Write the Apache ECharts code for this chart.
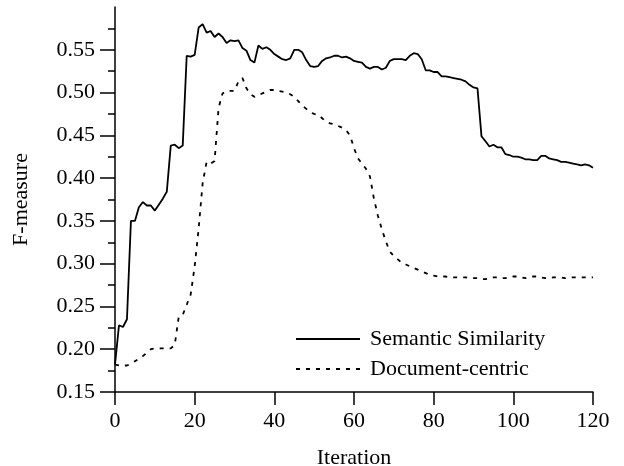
<!DOCTYPE html>
<html>
<head>
<meta charset="utf-8">
<script src="https://cdn.jsdelivr.net/npm/echarts@6/dist/echarts.min.js"></script>
<style>html,body{margin:0;padding:0;background:#fff}#c{width:624px;height:466px}</style>
</head>
<body>
<div id="c"></div>
<script>
var iterations = [];
for (var k = 0; k <= 120; k++) iterations.push(k);

var semanticSimilarity = [
  0.182,0.228,0.226,0.235,0.350,0.350,0.366,0.372,0.368,0.368,
  0.362,0.369,0.376,0.384,0.438,0.439,0.435,0.438,0.543,0.542,
  0.544,0.576,0.580,0.570,0.572,0.565,0.569,0.565,0.558,0.561,
  0.560,0.561,0.552,0.549,0.538,0.535,0.555,0.551,0.553,0.550,
  0.545,0.542,0.539,0.538,0.540,0.550,0.550,0.547,0.538,0.531,
  0.530,0.531,0.537,0.540,0.541,0.543,0.543,0.541,0.542,0.540,
  0.537,0.536,0.535,0.530,0.528,0.530,0.530,0.527,0.529,0.537,
  0.539,0.539,0.539,0.538,0.543,0.546,0.545,0.539,0.526,0.526,
  0.524,0.524,0.519,0.519,0.518,0.517,0.516,0.515,0.513,0.509,
  0.506,0.505,0.449,0.443,0.437,0.439,0.436,0.436,0.428,0.427,
  0.425,0.425,0.424,0.422,0.422,0.421,0.421,0.426,0.426,0.423,
  0.422,0.421,0.419,0.419,0.418,0.417,0.416,0.415,0.416,0.415,
  0.412
];

var documentCentric = [
  0.182,0.181,0.181,0.181,0.183,0.186,0.189,0.192,0.196,0.200,
  0.201,0.201,0.201,0.201,0.201,0.205,0.238,0.240,0.252,0.264,
  0.297,0.341,0.394,0.419,0.417,0.420,0.482,0.499,0.502,0.502,
  0.502,0.513,0.517,0.505,0.498,0.495,0.497,0.499,0.501,0.503,
  0.503,0.502,0.501,0.500,0.498,0.495,0.490,0.485,0.481,0.477,
  0.475,0.474,0.470,0.466,0.464,0.463,0.461,0.459,0.456,0.450,
  0.435,0.423,0.417,0.411,0.402,0.376,0.356,0.340,0.326,0.314,
  0.309,0.305,0.301,0.299,0.297,0.295,0.293,0.291,0.289,0.287,
  0.286,0.285,0.285,0.285,0.284,0.284,0.284,0.284,0.284,0.283,
  0.283,0.283,0.282,0.282,0.283,0.284,0.284,0.283,0.283,0.284,
  0.285,0.285,0.284,0.283,0.284,0.285,0.285,0.284,0.283,0.283,
  0.284,0.284,0.284,0.283,0.284,0.284,0.284,0.284,0.284,0.284,
  0.284
];

var yMajorTicks = [0.15,0.20,0.25,0.30,0.35,0.40,0.45,0.50,0.55];
var yMinorTicks = [0.175,0.225,0.275,0.325,0.375,0.425,0.475,0.525,0.575];
var xTicks = [0,20,40,60,80,100,120];

function pairs(ys){ return ys.map(function(v,i){ return [iterations[i], v]; }); }

var FONT = 'Liberation Serif';
var chart = echarts.init(document.getElementById('c'), null, {renderer:'canvas'});
chart.setOption({
  backgroundColor:'#fff',
  animation:false,
  textStyle:{fontFamily:FONT,color:'#000'},
  grid:{left:115,right:31,top:7,bottom:74,containLabel:false,outerBoundsMode:'none'},
  legend:{
    orient:'vertical', left:290, top:323, itemWidth:64, itemHeight:14, itemGap:8,
    itemStyle:{opacity:0},
    textStyle:{fontFamily:FONT,fontSize:22,color:'#000',padding:[0,0,0,5]},
    data:['Semantic Similarity','Document-centric']
  },
  xAxis:{
    type:'value', min:0, max:120, interval:20,
    name:'Iteration', nameLocation:'middle', nameGap:55,
    nameTextStyle:{fontFamily:FONT,fontSize:22,color:'#000'},
    axisLine:{show:true,onZero:false,lineStyle:{color:'#000',width:1.5}},
    axisTick:{show:true,inside:false,length:13,lineStyle:{color:'#000',width:1.5},customValues:xTicks},
    axisLabel:{fontFamily:FONT,fontSize:22,color:'#000',margin:18,customValues:xTicks},
    splitLine:{show:false}
  },
  yAxis:[{
    type:'value', min:0.15, max:0.6, interval:0.05,
    name:'F-measure', nameLocation:'middle', nameGap:83, nameRotate:90,
    nameTextStyle:{fontFamily:FONT,fontSize:22,color:'#000'},
    axisLine:{show:true,onZero:false,lineStyle:{color:'#000',width:1.5}},
    axisTick:{show:true,inside:false,length:15,lineStyle:{color:'#000',width:1.5},customValues:yMajorTicks},
    axisLabel:{fontFamily:FONT,fontSize:22,color:'#000',margin:20,customValues:yMajorTicks,
      formatter:function(v){return v.toFixed(2);}},
    splitLine:{show:false}
  },{
    type:'value', min:0.15, max:0.6, interval:0.05, position:'left',
    axisLine:{show:false},
    axisTick:{show:true,inside:false,length:7,lineStyle:{color:'#000',width:1.5},customValues:yMinorTicks},
    axisLabel:{show:false},
    splitLine:{show:false}
  }],
  series:[{
    name:'Semantic Similarity', type:'line', data:pairs(semanticSimilarity),
    symbol:'none', smooth:false,
    lineStyle:{color:'#000',width:1.8,type:'solid'},
    itemStyle:{color:'#000'}
  },{
    name:'Document-centric', type:'line', data:pairs(documentCentric),
    symbol:'none', smooth:false,
    lineStyle:{color:'#000',width:1.8,type:[4,6]},
    itemStyle:{color:'#000'}
  }]
});
</script>
</body>
</html>
